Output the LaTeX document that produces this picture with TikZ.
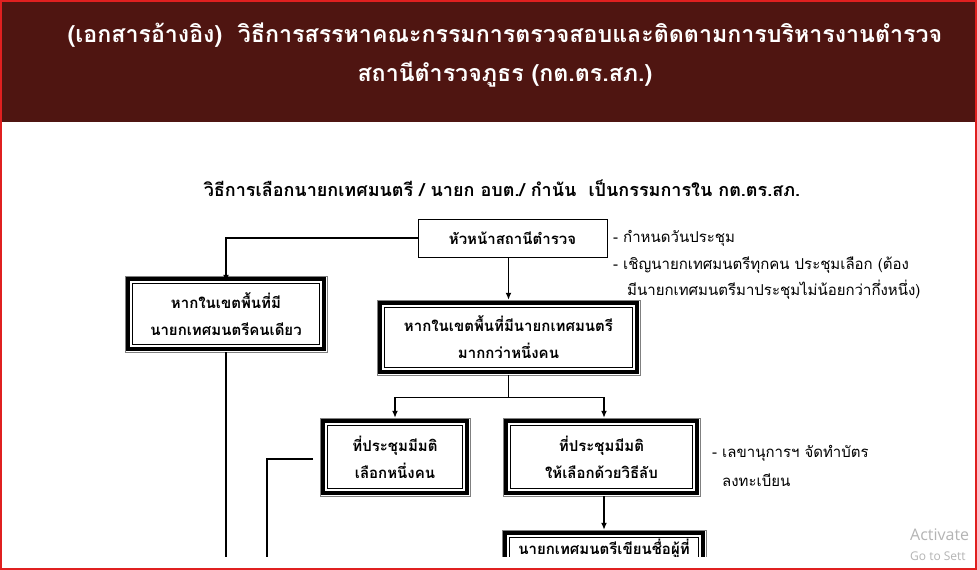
\documentclass[tikz,border=0pt]{standalone}
\usepackage{fontspec}
\newfontfamily\thai[Script=Thai]{Loma}
\newfontfamily\wmfont{Open Sans}
\usetikzlibrary{arrows.meta}
\definecolor{hdr}{HTML}{4F1511}
\definecolor{redframe}{HTML}{E02020}
\definecolor{wmgray}{HTML}{B4B4B4}
\newcommand\dframe[1]{%
  \draw[line width=0.5pt,gray] (#1.north west) rectangle (#1.south east);
  \draw[line width=3.5pt] ([shift={(3,3)}]#1.north west) rectangle ([shift={(-3,-3)}]#1.south east);
  \draw[line width=0.8pt] ([shift={(8,8)}]#1.north west) rectangle ([shift={(-8,-8)}]#1.south east);}
\begin{document}
\begin{tikzpicture}[x=1pt,y=-1pt,
  title/.style={text=white, font=\thai\bfseries\fontsize{23.2}{27}\selectfont, inner sep=0},
  sub/.style={font=\thai\bfseries\fontsize{18}{21}\selectfont, inner sep=0},
  note/.style={font=\thai\fontsize{15}{18}\selectfont, anchor=west, inner sep=0},
  sbox/.style={draw, line width=0.8pt, inner sep=0, font=\thai\bfseries\fontsize{15}{18}\selectfont},
  dbox/.style={inner sep=0, align=center, font=\thai\bfseries\fontsize{15}{27}\selectfont},
  conn/.style={line width=1.4pt},
  arr/.style={conn, -{Latex[length=7pt,width=6pt]}},
  wm/.style={text=wmgray, anchor=west, inner sep=0}]
\useasboundingbox (0,0) rectangle (977,570);
\begin{scope}
\clip (0,0) rectangle (977,570);
\fill[white] (0,0) rectangle (977,570);
\fill[hdr] (0,0) rectangle (977,122);
\node[title] (t1) at (505,35) {(เอกสารอ้างอิง)\ \ วิธีการสรรหาคณะกรรมการตรวจสอบและติดตามการบริหารงานตำรวจ};
\node[title] (t2) at (505,75) {สถานีตำรวจภูธร (กต.ตร.สภ.)};
\node[sub] (st) at (502,188) {วิธีการเลือกนายกเทศมนตรี / นายก อบต./ กำนัน\ \ เป็นกรรมการใน กต.ตร.สภ.};

\node[sbox, minimum width=189, minimum height=38] (head) at (512.5,238) {หัวหน้าสถานีตำรวจ};
\node[note] (n1) at (613,238) {- กำหนดวันประชุม};
\node[note] (n2) at (613,265) {- เชิญนายกเทศมนตรีทุกคน ประชุมเลือก (ต้อง};
\node[note] (n3) at (627,290) {มีนายกเทศมนตรีมาประชุมไม่น้อยกว่ากึ่งหนึ่ง)};

\node[dbox, minimum width=202, minimum height=76] (one) at (226,314) {หากในเขตพื้นที่มี\\นายกเทศมนตรีคนเดียว};
\dframe{one}
\node[dbox, minimum width=263, minimum height=75] (many) at (508.5,337.5) {หากในเขตพื้นที่มีนายกเทศมนตรี\\มากกว่าหนึ่งคน};
\dframe{many}
\node[dbox, minimum width=150, minimum height=78] (pick) at (395,457) {ที่ประชุมมีมติ\\เลือกหนึ่งคน};
\dframe{pick}
\node[dbox, minimum width=197, minimum height=78] (secret) at (601.5,457) {ที่ประชุมมีมติ\\ให้เลือกด้วยวิธีลับ};
\dframe{secret}
\node[note] (n4) at (712,453) {- เลขานุการฯ จัดทำบัตร};
\node[note] (n5) at (722,480) {ลงทะเบียน};

\begin{scope}
\clip (0,0) rectangle (977,556);
\node[dbox, minimum width=204, minimum height=38] (write) at (604,549) {นายกเทศมนตรีเขียนชื่อผู้ที่};
\dframe{write}
\end{scope}

\coordinate (oneend) at (226,557);
\coordinate (pickturn) at (267,459);
\coordinate (pickend) at (267,557);
\coordinate (pickstart) at (313,459);

\draw[arr] (head.west) -| ([yshift=-6]one.north);
\draw[arr] (head.south -| many.north) -- (many.north);
\draw[conn] (many.south) -- ++(0,22) coordinate (split);
\draw[arr] (split) -| (pick.north);
\draw[arr] (split) -| ([xshift=2.5]secret.north);
\draw[arr] ([xshift=2.5]secret.south) -- (write.north);
\draw[conn] (one.south) -- (oneend);
\draw[conn] (pickstart) -- (pickturn) -- (pickend);

\node[wm, font=\wmfont\fontsize{16}{18}\selectfont] (wa) at (910,535) {Activate};
\node[wm, font=\wmfont\fontsize{12}{14}\selectfont] (wb) at (910,556) {Go to Sett};
\end{scope}
\draw[redframe, line width=2pt] (1,1) rectangle (976,569);
\end{tikzpicture}
\end{document}
